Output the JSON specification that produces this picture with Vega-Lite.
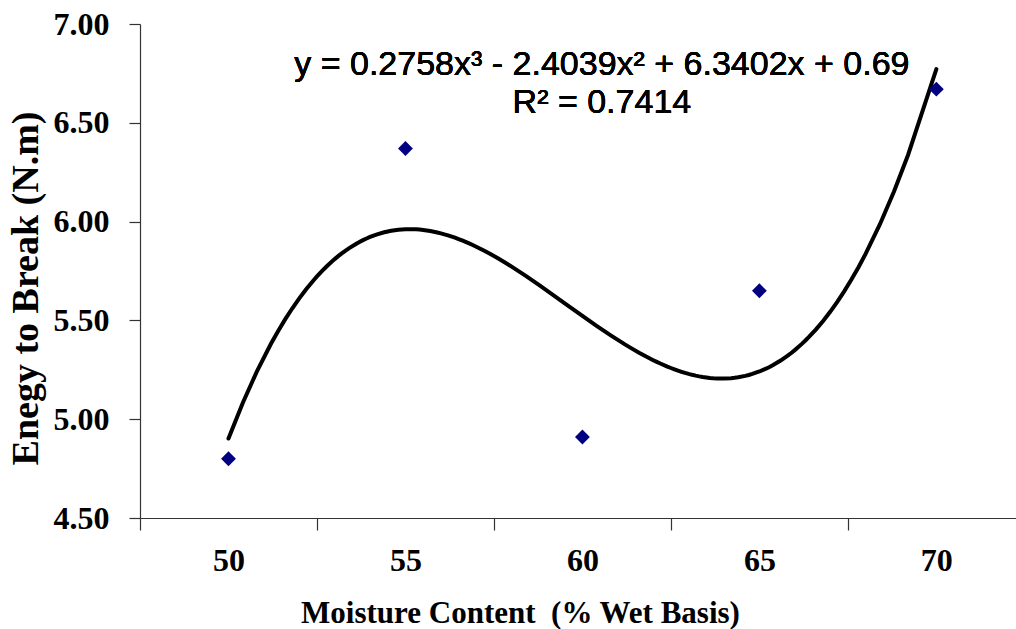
{
  "$schema": "https://vega.github.io/schema/vega-lite/v6.json",
  "width": 876,
  "height": 494,
  "autosize": {"type": "none"},
  "padding": {"left": 140, "top": 24, "right": 0, "bottom": 111},
  "background": "white",
  "config": {
    "view": {"stroke": null},
    "axis": {"grid": false, "domainColor": "#333333", "tickColor": "#333333", "domainWidth": 1.2, "tickWidth": 1.2}
  },
  "data": {
    "values": [
      {"moisture": 50, "energy": 4.80},
      {"moisture": 55, "energy": 6.37},
      {"moisture": 60, "energy": 4.91},
      {"moisture": 65, "energy": 5.65},
      {"moisture": 70, "energy": 6.67}
    ]
  },
  "encoding": {
    "x": {
      "field": "moisture",
      "type": "quantitative",
      "scale": {"domain": [47.5, 72.25], "nice": false, "zero": false},
      "axis": {
        "title": "Moisture Content\u00a0 (% Wet Basis)",
        "values": [50, 55, 60, 65, 70],
        "tickOffset": -88.5,
        "labelOffset": 88.5,
        "tickSize": 12,
        "labelFont": "Liberation Serif",
        "labelFontWeight": "bold",
        "labelFontSize": 32,
        "labelColor": "#000000",
        "labelBaseline": "alphabetic",
        "labelPadding": 40,
        "labelFlush": false,
        "labelOverlap": false,
        "titleFont": "Liberation Serif",
        "titleFontWeight": "bold",
        "titleFontSize": 31,
        "titleColor": "#000000",
        "titleBaseline": "alphabetic",
        "titleX": 380,
        "titleY": 104
      }
    },
    "y": {
      "field": "energy",
      "type": "quantitative",
      "scale": {"domain": [4.5, 7.0], "nice": false, "zero": false},
      "axis": {
        "title": "Enegy to Break (N.m)",
        "values": [4.5, 5.0, 5.5, 6.0, 6.5, 7.0],
        "format": ".2f",
        "tickSize": 11,
        "labelFont": "Liberation Serif",
        "labelFontWeight": "bold",
        "labelFontSize": 32,
        "labelColor": "#000000",
        "labelPadding": 20,
        "labelFlush": false,
        "labelOverlap": false,
        "titleFont": "Liberation Serif",
        "titleFontWeight": "bold",
        "titleFontSize": 38,
        "titleColor": "#000000",
        "titleAngle": -90,
        "titleBaseline": "alphabetic",
        "titleAlign": "center",
        "titleX": -103,
        "titleY": 264
      }
    }
  },
  "layer": [
    {
      "transform": [
        {"regression": "energy", "on": "moisture", "method": "poly", "order": 3}
      ],
      "mark": {"type": "line", "color": "#000000", "strokeWidth": 4, "strokeCap": "round"}
    },
    {
      "mark": {"type": "point", "shape": "diamond", "filled": true, "color": "#000080", "opacity": 1, "size": 220}
    },
    {
      "mark": {
        "type": "text",
        "text": ["y = 0.2758x³ - 2.4039x² + 6.3402x + 0.69", "R² = 0.7414"],
        "font": "Liberation Sans",
        "fontSize": 34,
        "lineHeight": 38,
        "align": "center",
        "baseline": "alphabetic",
        "color": "#000000"
      },
      "encoding": {
        "x": {"datum": 60.55, "type": "quantitative"},
        "y": {"datum": 6.742, "type": "quantitative"}
      }
    }
  ]
}
